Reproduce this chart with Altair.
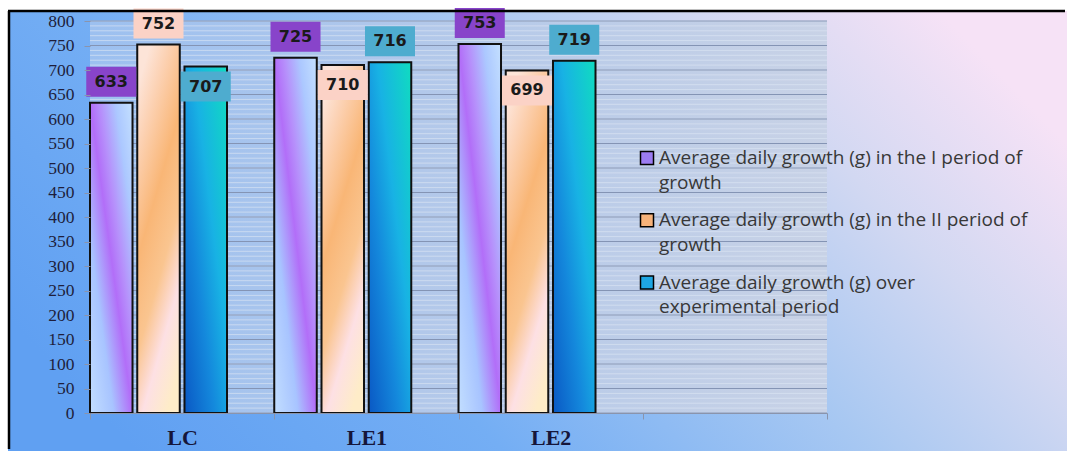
import altair as alt
import pandas as pd

# ---------------- data ----------------
groups = ["LC", "LE1", "LE2"]
series_names = [
    "Average daily growth (g) in the I period of growth",
    "Average daily growth (g) in the II period of growth",
    "Average daily growth (g) over experimental period",
]
period_1 = [633, 725, 753]
period_2 = [752, 710, 699]
experimental = [707, 716, 719]
legend_lines = [
    ["Average daily growth (g) in the I period of", "growth"],
    ["Average daily growth (g) in the II period of", "growth"],
    ["Average daily growth (g) over", "experimental period"],
]
y_ticks = list(range(0, 801, 50))
minor_ticks = list(range(0, 801, 10))

# ---------------- layout / style ----------------
W, H = 737, 392            # plot area
LEFT, TOP = 90, 21         # plot origin on the canvas
CANVAS_W, CANVAS_H = 1067, 451
EMPTY_GROUP = " "          # empty fourth category slot
EMPTY_SLOT = "(unused)"    # empty fourth bar slot in each group
below_labels = {("LC", 2), ("LE1", 1), ("LE2", 1)}   # labels drawn under the bar top

box_colors = ["#8844ca", "#fbd2c6", "#4eaccf"]
legend_colors = ["#9c7cf2", "#f6b27a", "#1ea6e2"]


def grad(stops, x1=0.0, y1=0.0, x2=1.0, y2=0.0):
    return alt.LinearGradient(
        gradient="linear", x1=x1, y1=y1, x2=x2, y2=y2,
        stops=[alt.GradientStop(offset=o, color=c) for o, c in stops],
    )


bar_fills = [
    grad([(0, "#c2deff"), (0.28, "#a8c4ff"), (0.5, "#b26ef8"), (0.62, "#b690fb"),
          (0.8, "#acc8ff"), (1, "#c4e0ff")], 0, 1, 1, 0),
    grad([(0, "#fde4d8"), (0.15, "#fcd2b4"), (0.4, "#f9b676"), (0.62, "#fac590"),
          (0.8, "#fde0e4"), (1, "#feecc8")], 0.3, 0, 0.7, 1),
    grad([(0, "#0a58c4"), (0.35, "#1488dc"), (0.6, "#18b2e4"), (1, "#10dcc0")], 0, 1, 1, 0),
]

rows = []
for si, (name, vals) in enumerate(zip(series_names, [period_1, period_2, experimental])):
    for g, v in zip(groups, vals):
        rows.append({
            "group": g, "series": name, "value": v,
            "place": "below" if (g, si) in below_labels else "above",
        })
df = pd.DataFrame(rows)
one = pd.DataFrame({"k": [0]})

# ---------------- shared encodings ----------------
x_enc = alt.X(
    "group:N",
    scale=alt.Scale(domain=groups + [EMPTY_GROUP], paddingInner=0, paddingOuter=0),
    axis=alt.Axis(
        title=None, labelAngle=0, labelFont="Liberation Serif", labelFontWeight="bold",
        labelFontSize=22, labelColor="#16163a", labelPadding=8, tickBand="extent",
        tickSize=6, tickColor="#8a94ac", domainColor="#8a94ac", grid=False, zindex=1,
    ),
)
xoff = alt.XOffset(
    "series:N",
    scale=alt.Scale(domain=series_names + [EMPTY_SLOT], paddingInner=0.1, paddingOuter=0),
)
y_enc = alt.Y(
    "value:Q",
    scale=alt.Scale(domain=[0, 800], nice=False),
    axis=alt.Axis(
        title=None, values=y_ticks, labelFont="Liberation Serif", labelFontSize=17.5,
        labelColor="#1e1e3c", tickSize=6, tickColor="#8a94ac", labelPadding=10,
        domain=False, grid=False, zindex=1,
    ),
)


def panel(x0, x1, y0, y1, fill, **kw):
    return alt.Chart(one).mark_rect(fill=fill, **kw).encode(
        x=alt.value(x0), x2=alt.value(x1), y=alt.value(y0), y2=alt.value(y1)
    )


layers = []

# canvas, framed background, plot area
layers.append(panel(-LEFT, CANVAS_W - LEFT, -TOP, CANVAS_H - TOP, "white"))
layers.append(panel(
    -82, CANVAS_W - LEFT, -10, CANVAS_H - TOP,
    grad([(0, "#60a0f2"), (0.3, "#74aef4"), (0.6, "#a8c8f2"), (0.8, "#d2d8f2"),
          (1, "#f6e2f6")], 0, 0.7, 1, 0.3),
))
layers.append(panel(
    0, W, 0, H,
    grad([(0, "#9cc0f0"), (0.45, "#b2c8ea"), (1, "#c8d2e6")]),
))

# gridlines
layers.append(
    alt.Chart(pd.DataFrame({"value": minor_ticks}))
    .mark_rule(color="#dce5f2", strokeWidth=1, opacity=0.65)
    .encode(y=y_enc, x=alt.value(0), x2=alt.value(W))
)
layers.append(
    alt.Chart(pd.DataFrame({"value": y_ticks}))
    .mark_rule(color="#8494b4", strokeWidth=1)
    .encode(y=y_enc, x=alt.value(0), x2=alt.value(W))
)

# bars, one layer per series so each gets its own gradient
for name, fill in zip(series_names, bar_fills):
    layers.append(
        alt.Chart(df).transform_filter(alt.datum.series == name)
        .mark_bar(fill=fill, stroke="#111111", strokeWidth=2)
        .encode(x=x_enc, xOffset=xoff, y=y_enc)
    )

# value labels with coloured boxes
box_paths = {
    "above": "M-1.667,-2.4H1.667V-0.4H-1.667Z",
    "below": "M-1.667,0.333H1.667V2.333H-1.667Z",
}
label_dy = {"above": -21, "below": 20}
for place in ["above", "below"]:
    sub = alt.Chart(df).transform_filter(alt.datum.place == place)
    layers.append(
        sub.mark_point(shape=box_paths[place], size=900, filled=True, opacity=1, strokeWidth=0)
        .encode(
            x=x_enc, xOffset=xoff, y=y_enc,
            color=alt.Color("series:N", scale=alt.Scale(domain=series_names, range=box_colors),
                            legend=None),
        )
    )
    layers.append(
        sub.mark_text(dy=label_dy[place], font="DejaVu Sans", fontWeight="bold",
                      fontSize=16, color="#1a1a1a", baseline="middle")
        .encode(x=x_enc, xOffset=xoff, y=y_enc, text=alt.Text("value:Q"))
    )

# legend
for i, (lines, col) in enumerate(zip(legend_lines, legend_colors)):
    cy = 137 + i * 62.3
    layers.append(
        alt.Chart(one).mark_square(size=169, filled=True, fill=col, stroke="black",
                                   strokeWidth=1.5, opacity=1)
        .encode(x=alt.value(557), y=alt.value(cy))
    )
    layers.append(
        alt.Chart(one).mark_text(text=lines, align="left", baseline="alphabetic",
                                 font="Open Sans", fontSize=19, lineHeight=24.5, color="#383838")
        .encode(x=alt.value(569), y=alt.value(cy + 6))
    )

# outer frame (left and top edges), kept inside the canvas bounds
layers.append(
    alt.Chart(one).mark_rule(color="black", strokeWidth=2.5)
    .encode(x=alt.value(-81), y=alt.value(-10), y2=alt.value(CANVAS_H - TOP - 2))
)
layers.append(
    alt.Chart(one).mark_rule(color="black", strokeWidth=2.5)
    .encode(x=alt.value(-82), x2=alt.value(CANVAS_W - LEFT - 2), y=alt.value(-10))
)

chart = (
    alt.layer(*layers)
    .properties(width=W, height=H, padding=0, background="white")
    .configure_view(stroke=None)
)

chart.save("out.html", embed_options={"renderer": "svg", "actions": False})
